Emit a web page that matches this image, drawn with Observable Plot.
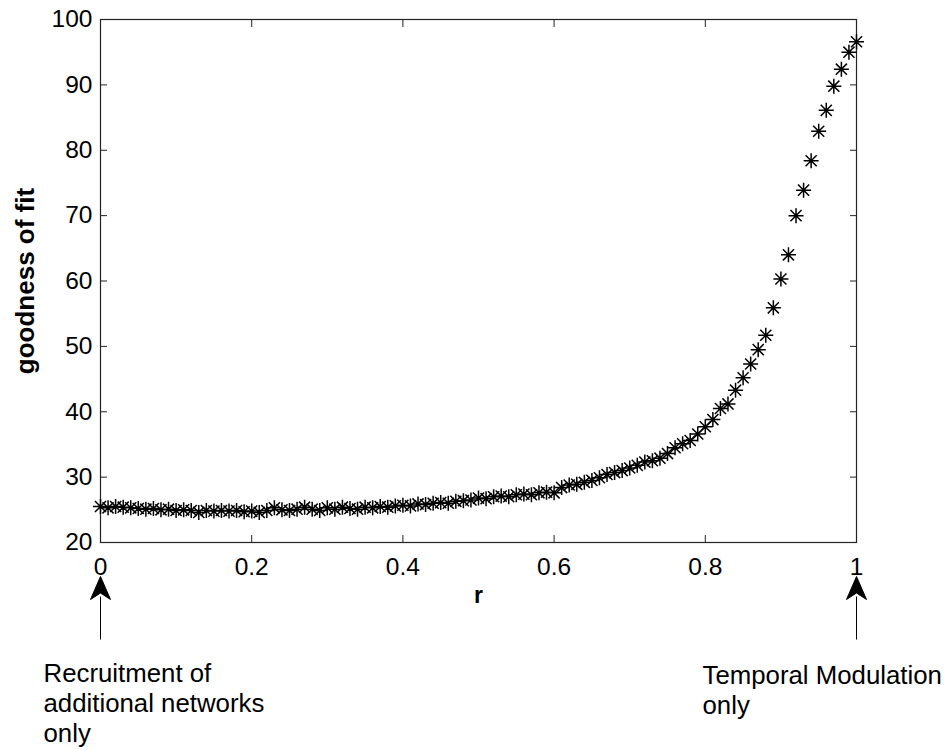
<!DOCTYPE html>
<html>
<head>
<meta charset="utf-8">
<script src="https://cdn.jsdelivr.net/npm/d3@7"></script>
<script src="https://cdn.jsdelivr.net/npm/@observablehq/plot@0.6"></script>
<style>
  html, body { margin: 0; padding: 0; background: #fff; }
  #chart { width: 950px; height: 750px; }
</style>
</head>
<body>
<div id="chart"></div>
<script>
// r grid (0 to 1 in steps of 0.01)
const rValues = d3.range(0, 101).map(i => i / 100);
// goodness of fit
const fitValues = [
  25.5,25.3,25.5,25.4,25.3,25.2,25.1,25.2,25.0,25.1,
  24.9,25.0,24.9,24.6,24.9,24.8,24.9,24.8,24.9,24.7,
  24.8,24.6,24.9,25.3,25.0,24.9,25.1,25.4,25.1,24.9,
  25.3,25.1,25.4,25.2,25.1,25.4,25.3,25.5,25.4,25.6,
  25.7,25.6,25.9,25.8,26.0,26.1,26.0,26.3,26.4,26.5,
  26.8,26.7,27.0,27.1,27.0,27.3,27.4,27.3,27.6,27.7,
  27.6,28.4,28.8,28.9,29.2,29.5,29.9,30.4,30.7,31.0,
  31.4,31.8,32.3,32.5,32.9,33.6,34.5,35.1,35.6,36.6,
  37.7,38.8,40.5,41.2,43.3,45.2,47.3,49.5,51.7,55.9,
  60.3,64.0,70.0,73.9,78.4,82.9,86.1,89.8,92.4,95.0,
  96.6
];
const xTicks = [0, 0.2, 0.4, 0.6, 0.8, 1];
const xTickLabels = ["0", "0.2", "0.4", "0.6", "0.8", "1"];
const yTicks = [20, 30, 40, 50, 60, 70, 80, 90, 100];
const xDomain = [0, 1];
const yDomain = [20, 100];
const xLabel = "r";
const yLabel = "goodness of fit";
const annotLeft = {r: 0, text: "Recruitment of\nadditional networks\nonly"};
const annotRight = {r: 1, text: "Temporal Modulation\nonly"};

const data = rValues.map((r, i) => ({r, fit: fitValues[i]}));

// MATLAB-style 8-armed asterisk marker
const starSymbol = {
  draw(context, size) {
    const rr = Math.sqrt(size / Math.PI);
    const d = rr * 0.74;
    context.moveTo(-rr, 0); context.lineTo(rr, 0);
    context.moveTo(0, -rr); context.lineTo(0, rr);
    context.moveTo(-d, -d); context.lineTo(d, d);
    context.moveTo(-d, d); context.lineTo(d, -d);
  }
};
// upward arrow: tip at origin, filled notched head, thin shaft
const arrowSymbol = {
  draw(context) {
    context.moveTo(0, 63); context.lineTo(0, 20);
    context.moveTo(0, 0);
    context.lineTo(-10, 23);
    context.lineTo(0, 16.5);
    context.lineTo(10, 23);
    context.closePath();
  }
};

const font = "'Liberation Sans', Arial, Helvetica, sans-serif";
const fmt = d => xTickLabels[xTicks.indexOf(d)];

const plot = Plot.plot({
  width: 950,
  height: 750,
  marginLeft: 100,
  marginRight: 94,
  marginTop: 19,
  marginBottom: 208,
  style: {fontFamily: font, background: "#fff", color: "#000"},
  x: {domain: xDomain},
  y: {domain: yDomain},
  marks: [
    Plot.frame({stroke: "#222", strokeWidth: 1.2}),
    Plot.axisX({anchor: "bottom", ticks: xTicks, tickSize: -7, tickPadding: 22, tickFormat: fmt, fontSize: 24.5, label: null, stroke: "#222"}),
    Plot.axisX({anchor: "top", ticks: xTicks, tickSize: -7, tickFormat: () => "", label: null, stroke: "#222"}),
    Plot.axisY({anchor: "left", ticks: yTicks, tickSize: -7, tickPadding: 15, fontSize: 24.5, label: null, stroke: "#222"}),
    Plot.axisY({anchor: "right", ticks: yTicks, tickSize: -7, tickFormat: () => "", label: null, stroke: "#222"}),
    Plot.text([yLabel], {text: d => d, frameAnchor: "left", textAnchor: "middle", rotate: -90, dx: -75, fontSize: 26, fontWeight: "bold"}),
    Plot.text([xLabel], {text: d => d, frameAnchor: "bottom", dy: 53, lineAnchor: "middle", fontSize: 23, fontWeight: "bold"}),
    Plot.dot(data, {x: "r", y: "fit", symbol: starSymbol, r: 7.5, fill: "none", stroke: "#000", strokeWidth: 1.5}),
    Plot.dot([annotLeft, annotRight], {x: "r", y: () => yDomain[0], symbol: arrowSymbol, r: 10, dy: 34, fill: "#000", stroke: "#000", strokeWidth: 1}),
    Plot.text([annotLeft], {x: "r", y: () => yDomain[0], text: "text", dx: -57, dy: 118, textAnchor: "start", lineAnchor: "top", lineHeight: 1.16, fontSize: 25.8}),
    Plot.text([annotRight], {x: "r", y: () => yDomain[0], text: "text", dx: -154, dy: 120, textAnchor: "start", lineAnchor: "top", lineHeight: 1.16, fontSize: 25.8})
  ]
});
document.getElementById("chart").appendChild(plot);
</script>
</body>
</html>
